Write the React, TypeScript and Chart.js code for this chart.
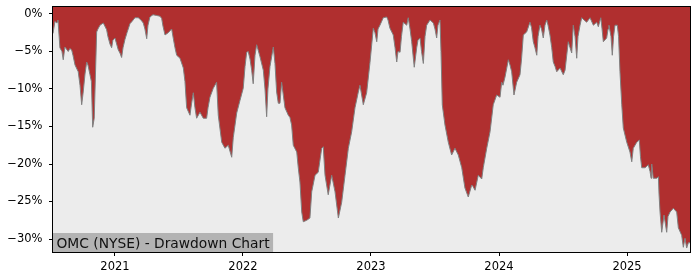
import { useEffect, useRef } from "react";
import { Chart, registerables } from "chart.js";

Chart.register(...registerables);

const FONT = "'DejaVu Sans', sans-serif";
const labelText = "OMC (NYSE) - Drawdown Chart";

// decimal-year dates
const dates: number[] = [
  2020.516, 2020.531, 2020.547, 2020.555, 2020.570, 2020.586, 2020.596, 2020.609, 2020.635, 2020.648,
  2020.662, 2020.672, 2020.688, 2020.713, 2020.727, 2020.740, 2020.752, 2020.766, 2020.779, 2020.789,
  2020.805, 2020.816, 2020.826, 2020.838, 2020.857, 2020.867, 2020.883, 2020.909, 2020.935, 2020.945,
  2020.961, 2020.974, 2020.984, 2021.000, 2021.026, 2021.039, 2021.052, 2021.063, 2021.078, 2021.094,
  2021.117, 2021.133, 2021.156, 2021.182, 2021.203, 2021.221, 2021.234, 2021.248, 2021.258, 2021.273,
  2021.297, 2021.326, 2021.352, 2021.365, 2021.375, 2021.391, 2021.416, 2021.443, 2021.455, 2021.469,
  2021.482, 2021.508, 2021.534, 2021.547, 2021.560, 2021.586, 2021.598, 2021.612, 2021.625, 2021.638,
  2021.664, 2021.690, 2021.716, 2021.727, 2021.742, 2021.768, 2021.794, 2021.807, 2021.834, 2021.859,
  2021.885, 2021.912, 2021.924, 2021.951, 2021.977, 2022.002, 2022.016, 2022.029, 2022.041, 2022.055,
  2022.068, 2022.080, 2022.094, 2022.107, 2022.133, 2022.159, 2022.172, 2022.185, 2022.195, 2022.211,
  2022.237, 2022.250, 2022.263, 2022.276, 2022.289, 2022.302, 2022.328, 2022.354, 2022.367, 2022.380,
  2022.393, 2022.420, 2022.432, 2022.445, 2022.459, 2022.471, 2022.498, 2022.523, 2022.537, 2022.563,
  2022.588, 2022.615, 2022.627, 2022.641, 2022.666, 2022.693, 2022.719, 2022.745, 2022.771, 2022.797,
  2022.823, 2022.849, 2022.875, 2022.901, 2022.914, 2022.940, 2022.966, 2022.992, 2023.018, 2023.031,
  2023.045, 2023.055, 2023.070, 2023.096, 2023.123, 2023.133, 2023.148, 2023.174, 2023.188, 2023.201,
  2023.211, 2023.227, 2023.238, 2023.252, 2023.279, 2023.291, 2023.305, 2023.318, 2023.338, 2023.357,
  2023.367, 2023.383, 2023.395, 2023.409, 2023.422, 2023.435, 2023.461, 2023.487, 2023.500, 2023.513,
  2023.523, 2023.539, 2023.547, 2023.557, 2023.578, 2023.604, 2023.630, 2023.656, 2023.682, 2023.709,
  2023.734, 2023.760, 2023.787, 2023.797, 2023.813, 2023.838, 2023.865, 2023.877, 2023.904, 2023.930,
  2023.955, 2023.982, 2024.008, 2024.021, 2024.031, 2024.047, 2024.073, 2024.086, 2024.099, 2024.117,
  2024.138, 2024.164, 2024.176, 2024.190, 2024.216, 2024.242, 2024.254, 2024.268, 2024.281, 2024.295,
  2024.305, 2024.320, 2024.332, 2024.346, 2024.359, 2024.373, 2024.383, 2024.398, 2024.412, 2024.424,
  2024.438, 2024.451, 2024.477, 2024.502, 2024.516, 2024.529, 2024.541, 2024.555, 2024.568, 2024.580,
  2024.594, 2024.607, 2024.617, 2024.633, 2024.646, 2024.664, 2024.685, 2024.711, 2024.737, 2024.763,
  2024.776, 2024.795, 2024.805, 2024.815, 2024.841, 2024.852, 2024.859, 2024.875, 2024.885, 2024.895,
  2024.906, 2024.924, 2024.934, 2024.945, 2024.959, 2024.971, 2024.998, 2025.023, 2025.037, 2025.049,
  2025.076, 2025.096, 2025.105, 2025.115, 2025.141, 2025.166, 2025.180, 2025.188, 2025.193, 2025.205,
  2025.232, 2025.245, 2025.250, 2025.258, 2025.271, 2025.289, 2025.310, 2025.320, 2025.336, 2025.362,
  2025.388, 2025.401, 2025.427, 2025.440, 2025.453, 2025.466, 2025.479, 2025.492,
];

// drawdown in percent
const drawdown: number[] = [
  -2.6, -1.0, -1.2, -0.8, -4.5, -5.0, -6.1, -4.4, -5.0, -4.6,
  -4.8, -5.5, -6.8, -7.7, -9.5, -12.1, -10.4, -8.0, -6.4, -6.8,
  -8.1, -9.0, -15.1, -13.9, -2.4, -2.0, -1.5, -1.2, -2.1, -3.0,
  -4.0, -4.5, -3.5, -3.2, -4.8, -5.2, -5.8, -4.5, -3.4, -2.5,
  -1.3, -1.0, -0.5, -0.5, -0.8, -1.2, -2.0, -3.3, -1.5, -0.4,
  -0.1, -0.2, -0.3, -0.6, -1.6, -2.8, -2.5, -2.0, -3.2, -4.5,
  -5.5, -5.9, -7.2, -9.0, -12.5, -13.5, -12.0, -10.5, -12.5, -13.9,
  -13.1, -13.9, -13.9, -12.5, -11.1, -9.9, -9.1, -13.5, -17.1, -17.9,
  -17.5, -19.1, -16.5, -13.2, -11.5, -9.9, -7.0, -5.1, -5.0, -6.0,
  -7.5, -9.3, -5.5, -4.1, -5.7, -7.5, -10.0, -13.7, -10.0, -7.0,
  -4.4, -6.6, -10.4, -11.9, -11.9, -9.1, -12.5, -13.5, -13.8, -14.8,
  -17.5, -18.4, -20.5, -22.4, -26.4, -27.7, -27.5, -27.2, -23.7, -21.5,
  -21.1, -17.9, -17.7, -21.5, -24.1, -21.5, -23.7, -27.2, -25.1, -21.5,
  -17.9, -15.7, -12.5, -10.4, -9.5, -12.1, -10.5, -6.5, -1.9, -2.5,
  -3.7, -2.0, -1.5, -0.5, -0.4, -0.8, -1.9, -2.8, -4.5, -6.4,
  -5.0, -5.1, -3.0, -1.1, -1.5, -0.5, -2.0, -3.7, -7.1, -4.5,
  -3.5, -3.2, -5.0, -6.6, -3.0, -1.5, -0.8, -1.2, -2.0, -3.2,
  -1.5, -0.8, -5.0, -12.1, -14.8, -17.1, -18.8, -17.9, -18.8, -20.5,
  -23.2, -24.4, -22.8, -23.0, -23.5, -21.5, -22.0, -20.5, -17.9, -15.7,
  -12.1, -10.8, -11.1, -9.1, -9.5, -8.4, -6.1, -6.8, -7.7, -10.8,
  -9.1, -8.1, -6.0, -2.8, -2.4, -1.1, -1.8, -3.7, -4.5, -5.5,
  -3.0, -1.5, -2.0, -3.2, -1.5, -0.8, -1.5, -2.8, -4.5, -6.4,
  -7.0, -7.7, -7.2, -8.1, -7.5, -5.5, -3.7, -4.5, -5.2, -1.5,
  -3.0, -5.9, -3.0, -1.5, -0.5, -0.8, -1.1, -0.5, -1.5, -1.1,
  -1.7, -0.5, -2.0, -3.7, -3.2, -2.0, -1.5, -3.0, -5.5, -3.0,
  -1.5, -1.5, -3.0, -7.7, -12.1, -15.2, -17.1, -18.4, -19.7, -17.9,
  -17.1, -16.8, -19.0, -20.5, -20.5, -20.1, -21.0, -21.9, -20.0, -21.9,
  -21.9, -21.7, -24.0, -26.4, -29.1, -26.8, -29.1, -27.0, -26.4, -25.9,
  -26.4, -28.5, -29.5, -31.1, -29.9, -31.2, -30.5, -30.5,
];

const yearTicks: number[] = [2021, 2022, 2023, 2024, 2025];
const percentTicks: number[] = [0, -5, -10, -15, -20, -25, -30];
const yMin = -31.73;
const yMax = 0.93;

export default function App() {
  const ref = useRef<HTMLCanvasElement>(null);

  useEffect(() => {
    if (!ref.current) return;
    const n = Math.min(dates.length, drawdown.length);
    const points = Array.from({ length: n }, (_, i) => ({ x: dates[i], y: drawdown[i] }));

    const bgPlugin = {
      id: "plotBg",
      beforeDatasetsDraw(chart: any) {
        const { ctx, chartArea: a } = chart;
        ctx.save();
        ctx.fillStyle = "#ececec";
        ctx.fillRect(a.left, a.top, a.right - a.left, a.bottom - a.top);
        ctx.restore();
      },
      afterDatasetsDraw(chart: any) {
        const { ctx, chartArea: a } = chart;
        ctx.save();
        ctx.font = `13.8px ${FONT}`;
        const w = ctx.measureText(labelText).width;
        const h = 19;
        ctx.fillStyle = "#b3b3b3";
        ctx.fillRect(a.left, a.bottom - h, w + 7, h);
        ctx.fillStyle = "#111111";
        ctx.textBaseline = "alphabetic";
        ctx.textAlign = "left";
        ctx.fillText(labelText, a.left + 3.5, a.bottom - 4.5);
        ctx.strokeStyle = "#000000";
        ctx.lineWidth = 1;
        ctx.strokeRect(
          Math.round(a.left) - 0.5,
          Math.round(a.top) - 0.5,
          Math.round(a.right - a.left) + 1,
          Math.round(a.bottom - a.top) + 1
        );
        ctx.restore();
      },
    };

    const chart = new Chart(ref.current, {
      type: "line",
      data: {
        datasets: [
          {
            data: points,
            borderColor: "#808080",
            borderWidth: 1,
            backgroundColor: "#b02f2f",
            fill: "end",
            pointRadius: 0,
            tension: 0,
          },
        ],
      },
      options: {
        animation: false,
        responsive: false,
        devicePixelRatio: 1,
        events: [],
        layout: { padding: { top: 7, right: 10, left: 0, bottom: 0 } },
        plugins: { legend: { display: false }, tooltip: { enabled: false } },
        scales: {
          x: {
            type: "linear",
            min: dates[0],
            max: dates[dates.length - 1],
            border: { display: false },
            grid: {
              display: true,
              drawOnChartArea: false,
              drawTicks: true,
              tickLength: 4,
              tickColor: "#000000",
            },
            afterBuildTicks: (scale: any) => {
              scale.ticks = yearTicks.map((v) => ({ value: v }));
            },
            afterFit: (scale: any) => {
              scale.height = 28;
              scale.paddingLeft = 0;
              scale.paddingRight = 0;
            },
            ticks: {
              autoSkip: false,
              maxRotation: 0,
              padding: 4,
              color: "#000000",
              font: { family: FONT, size: 11.5 },
              callback: (v: any) => String(v),
            },
          },
          y: {
            type: "linear",
            min: yMin,
            max: yMax,
            border: { display: false },
            grid: {
              display: true,
              drawOnChartArea: false,
              drawTicks: true,
              tickLength: 4,
              tickColor: "#000000",
            },
            afterBuildTicks: (scale: any) => {
              scale.ticks = percentTicks.map((v) => ({ value: v }));
            },
            afterFit: (scale: any) => {
              scale.width = 53;
              scale.paddingTop = 0;
              scale.paddingBottom = 0;
            },
            ticks: {
              autoSkip: false,
              padding: 6.5,
              color: "#000000",
              font: { family: FONT, size: 11.5 },
              callback: (v: any) => (v === 0 ? "0%" : "\u2212" + Math.abs(v) + "%"),
            },
          },
        },
      },
      plugins: [bgPlugin],
    } as any);

    return () => chart.destroy();
  }, []);

  return (
    <canvas
      ref={ref}
      width={700}
      height={280}
      style={{ position: "absolute", left: 0, top: 0, display: "block" }}
    />
  );
}
